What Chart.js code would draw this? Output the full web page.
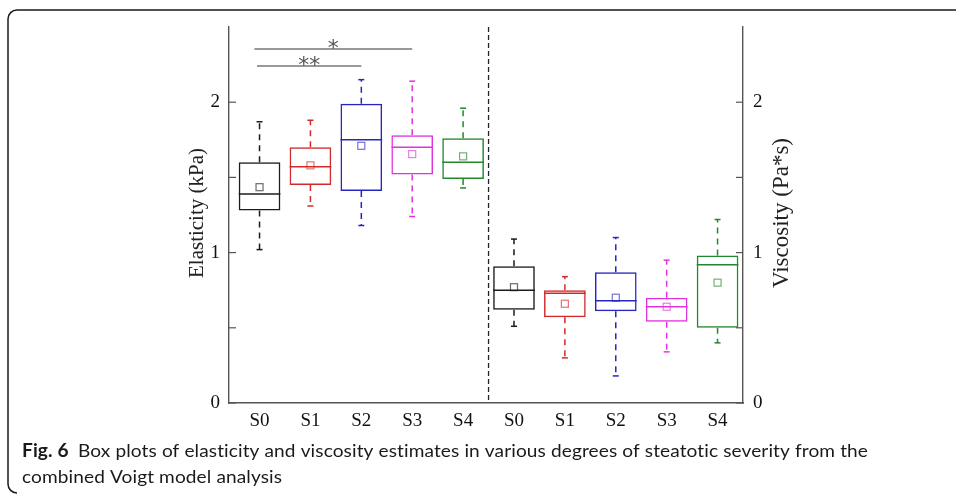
<!DOCTYPE html>
<html>
<head>
<meta charset="utf-8">
<script src="https://cdn.jsdelivr.net/npm/chart.js@4.4.1/dist/chart.umd.min.js"></script>
<style>
  html, body { margin: 0; padding: 0; background: #fff; overflow: hidden; }
  #wrap { width: 956px; height: 495px; position: relative; }
</style>
</head>
<body>
<div id="wrap"><canvas id="boxChart"></canvas></div>
<script>
// steatosis grades, one box per grade in each panel
const groups = ['S0', 'S1', 'S2', 'S3', 'S4'];
const groupColors = ['#1c1c1c', '#d22a2a', '#2626c2', '#e033e0', '#23882b'];

// elasticity (kPa)
const elasticityMin = [1.02, 1.31, 1.18, 1.24, 1.43];
const elasticityQ1 = [1.28, 1.45, 1.41, 1.52, 1.49];
const elasticityMedian = [1.39, 1.57, 1.75, 1.70, 1.60];
const elasticityQ3 = [1.60, 1.70, 1.99, 1.78, 1.76];
const elasticityMax = [1.87, 1.88, 2.15, 2.14, 1.96];
const elasticityMean = [1.435, 1.58, 1.71, 1.655, 1.64];

// viscosity (Pa*s)
const viscosityMin = [0.51, 0.30, 0.18, 0.34, 0.40];
const viscosityQ1 = [0.62, 0.57, 0.61, 0.54, 0.50];
const viscosityMedian = [0.75, 0.73, 0.68, 0.64, 0.92];
const viscosityQ3 = [0.91, 0.75, 0.87, 0.70, 0.98];
const viscosityMax = [1.09, 0.84, 1.10, 0.95, 1.22];
const viscosityMean = [0.77, 0.66, 0.70, 0.64, 0.80];

// tick marks on both value axes, labels only on whole numbers
const valueTicks = [0, 0.5, 1, 1.5, 2];
const xLabels = groups.concat(groups);

// significance bars on the elasticity panel: [from, to, level, mark]
const sigBars = [
  [-0.1, 3.0, 2.353, '*'],
  [-0.05, 2.0, 2.24, '**']
];

const serif = '"Liberation Serif", "DejaVu Serif", serif';

function line(ctx, x1, y1, x2, y2) {
  ctx.beginPath();
  ctx.moveTo(x1, y1);
  ctx.lineTo(x2, y2);
  ctx.stroke();
}

function verticalText(ctx, text, x, y, size) {
  ctx.save();
  ctx.fillStyle = '#222';
  ctx.font = size + 'px ' + serif;
  ctx.textAlign = 'center';
  ctx.textBaseline = 'middle';
  ctx.translate(x, y);
  ctx.rotate(-Math.PI / 2);
  ctx.fillText(text, 0, 0);
  ctx.restore();
}

const boxExtras = {
  id: 'boxExtras',
  afterDatasetsDraw(chart) {
    const { ctx, chartArea, scales } = chart;
    const xs = scales.x;

    chart.data.datasets.forEach((ds, di) => {
      const meta = chart.getDatasetMeta(di);
      const ys = scales[ds.yAxisID];
      meta.data.forEach((bar, i) => {
        const { x, width } = bar.getProps(['x', 'width'], true);
        const half = width / 2;
        const yMin = ys.getPixelForValue(ds.stats.min[i]);
        const yMax = ys.getPixelForValue(ds.stats.max[i]);
        const yQ1 = ys.getPixelForValue(ds.data[i].y[0]);
        const yQ3 = ys.getPixelForValue(ds.data[i].y[1]);
        const yMed = ys.getPixelForValue(ds.stats.median[i]);
        const yMean = ys.getPixelForValue(ds.stats.mean[i]);

        ctx.save();
        ctx.strokeStyle = groupColors[i];
        ctx.lineWidth = 1.5;
        // whiskers
        ctx.setLineDash([6, 5]);
        line(ctx, x, yQ3, x, yMax);
        line(ctx, x, yQ1, x, yMin);
        ctx.setLineDash([]);
        line(ctx, x - 3, yMax, x + 3, yMax);
        line(ctx, x - 3, yMin, x + 3, yMin);
        // median
        line(ctx, x - half, yMed, x + half, yMed);
        // mean marker
        ctx.globalAlpha = 0.65;
        ctx.lineWidth = 1.2;
        ctx.strokeRect(x - 3.5, yMean - 3.5, 7, 7);
        ctx.restore();
      });
    });

    // divider between the two panels
    ctx.save();
    ctx.strokeStyle = '#222';
    ctx.lineWidth = 1.3;
    ctx.setLineDash([5, 3]);
    const xd = xs.getPixelForValue(groups.length - 0.5);
    line(ctx, xd, chartArea.top, xd, chartArea.bottom);
    ctx.restore();

    // inward tick marks
    ctx.save();
    ctx.strokeStyle = '#555';
    ctx.lineWidth = 1.2;
    valueTicks.forEach(v => {
      const yl = scales.y.getPixelForValue(v);
      line(ctx, chartArea.left, yl, chartArea.left + 7, yl);
      const yr = scales.y1.getPixelForValue(v);
      line(ctx, chartArea.right - 7, yr, chartArea.right, yr);
    });
    ctx.restore();

    // significance bars
    ctx.save();
    ctx.strokeStyle = '#777';
    ctx.fillStyle = '#555';
    ctx.lineWidth = 1.5;
    ctx.font = '22px "DejaVu Sans", sans-serif';
    ctx.textAlign = 'center';
    ctx.textBaseline = 'alphabetic';
    sigBars.forEach(([a, b, level, mark]) => {
      const y = scales.y.getPixelForValue(level);
      const xa = xs.getPixelForValue(a);
      const xb = xs.getPixelForValue(b);
      line(ctx, xa, y, xb, y);
      ctx.fillText(mark, (xa + xb) / 2, y + 6);
    });
    ctx.restore();

    // axis titles, both reading bottom to top
    const midY = (chartArea.top + chartArea.bottom) / 2 - 2;
    verticalText(ctx, 'Elasticity (kPa)', chartArea.left - 32, midY, 21);
    verticalText(ctx, 'Viscosity (Pa*s)', chartArea.right + 39, midY, 23);
  },
  afterDraw(chart) {
    const { ctx } = chart;
    // figure frame, open on the right
    ctx.save();
    ctx.strokeStyle = '#1a1a1a';
    ctx.lineWidth = 1.5;
    ctx.beginPath();
    ctx.moveTo(chart.width + 2, 10);
    ctx.lineTo(17, 10);
    ctx.arcTo(8, 10, 8, 19, 9);
    ctx.lineTo(8, 484);
    ctx.arcTo(8, 493, 17, 493, 9);
    ctx.stroke();
    ctx.restore();

    // caption (small letter spacing keeps "ti" from joining)
    const sans = 'Lato, "Noto Sans", sans-serif';
    const lead = 'Fig. 6';
    const line1 = 'Box plots of elasticity and viscosity estimates in various degrees of steatotic severity from the';
    const line2 = 'combined Voigt model analysis';
    ctx.save();
    ctx.fillStyle = '#1a1a1a';
    ctx.textBaseline = 'alphabetic';
    ctx.letterSpacing = '0.1px';
    ctx.font = 'bold 18px ' + sans;
    const wLead = ctx.measureText(lead + '  ').width;
    ctx.font = '18px ' + sans;
    const w1 = ctx.measureText(line1).width;
    const sx = 846 / (wLead + w1);
    ctx.translate(22, 0);
    ctx.scale(sx, 1);
    ctx.font = 'bold 18px ' + sans;
    ctx.fillText(lead, 0, 457);
    ctx.font = '18px ' + sans;
    ctx.fillText(line1, wLead, 457);
    ctx.fillText(line2, 0, 483);
    ctx.restore();
  }
};

const axisBase = {
  min: 0,
  max: 2.5,
  grid: { display: false, drawTicks: false },
  border: { display: true, color: '#555', width: 1.4 },
  afterBuildTicks: s => { s.ticks = valueTicks.map(v => ({ value: v })); },
  ticks: {
    color: '#111',
    font: { family: serif, size: 19 },
    callback: v => (Number.isInteger(v) ? String(v) : '')
  }
};

new Chart(document.getElementById('boxChart'), {
  type: 'bar',
  data: {
    datasets: [
      {
        label: 'Elasticity',
        yAxisID: 'y',
        data: groups.map((g, i) => ({ x: i, y: [elasticityQ1[i], elasticityQ3[i]] })),
        stats: { min: elasticityMin, median: elasticityMedian, max: elasticityMax, mean: elasticityMean },
        borderColor: groupColors,
        backgroundColor: 'rgba(0,0,0,0)',
        borderWidth: 1.5,
        borderSkipped: false,
        grouped: false,
        barPercentage: 0.9,
        categoryPercentage: 0.91
      },
      {
        label: 'Viscosity',
        yAxisID: 'y1',
        data: groups.map((g, i) => ({ x: i + groups.length, y: [viscosityQ1[i], viscosityQ3[i]] })),
        stats: { min: viscosityMin, median: viscosityMedian, max: viscosityMax, mean: viscosityMean },
        borderColor: groupColors,
        backgroundColor: 'rgba(0,0,0,0)',
        borderWidth: 1.5,
        borderSkipped: false,
        grouped: false,
        barPercentage: 0.9,
        categoryPercentage: 0.91
      }
    ]
  },
  options: {
    responsive: true,
    maintainAspectRatio: false,
    animation: false,
    layout: { padding: { top: 27, left: 0, right: 0, bottom: 0 } },
    plugins: { legend: { display: false }, tooltip: { enabled: false } },
    scales: {
      x: {
        type: 'linear',
        offset: false,
        min: -0.6,
        max: 9.5,
        grid: { display: false, drawTicks: false },
        border: { display: true, color: '#555', width: 1.4 },
        afterBuildTicks: s => { s.ticks = xLabels.map((l, i) => ({ value: i })); },
        afterFit: s => { s.height = 92; },
        ticks: {
          color: '#111',
          padding: 7,
          maxRotation: 0,
          autoSkip: false,
          font: { family: serif, size: 19 },
          callback: v => xLabels[v]
        }
      },
      y: Object.assign({}, axisBase, {
        position: 'left',
        afterFit: s => { s.width = 229; },
        ticks: Object.assign({}, axisBase.ticks, { padding: 9 })
      }),
      y1: Object.assign({}, axisBase, {
        position: 'right',
        afterFit: s => { s.width = 213; },
        ticks: Object.assign({}, axisBase.ticks, { padding: 10 })
      })
    }
  },
  plugins: [boxExtras]
});
</script>
</body>
</html>
